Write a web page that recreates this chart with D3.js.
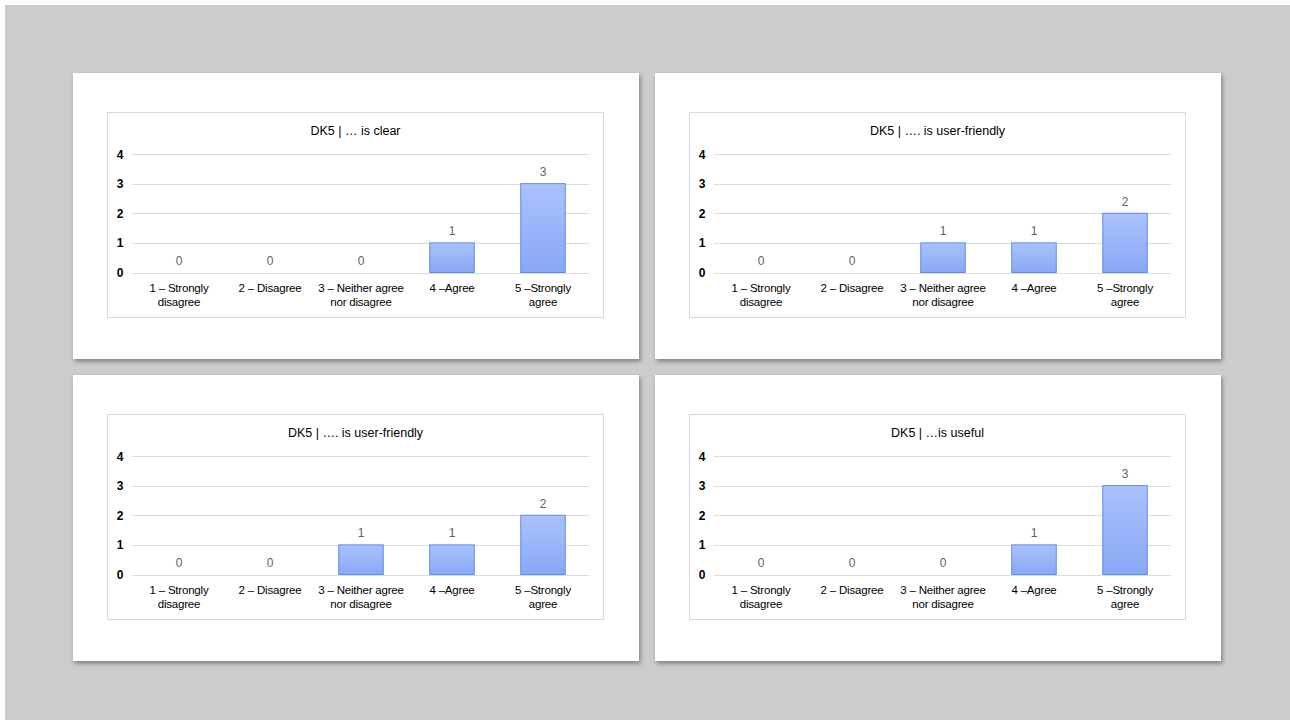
<!DOCTYPE html>
<html>
<head>
<meta charset="utf-8">
<script src="https://cdn.jsdelivr.net/npm/d3@7"></script>
<style>
  html, body { margin: 0; padding: 0; background: #ffffff; }
  svg { display: block; }
  text { font-family: "Liberation Sans", Arial, Helvetica, sans-serif; }
</style>
</head>
<body>
<svg id="chart" width="1290" height="720"></svg>
<script>
// Likert answer categories (each label split into its display lines)
const categoryLines = [
  ["1 – Strongly", "disagree"],
  ["2 – Disagree"],
  ["3 – Neither agree", "nor disagree"],
  ["4 –Agree"],
  ["5 –Strongly", "agree"]
];
const categoryKeys = ["1", "2", "3", "4", "5"];

// Chart titles, one per panel
const titles = [
  "DK5 | … is clear",
  "DK5 | …. is user-friendly",
  "DK5 | …. is user-friendly",
  "DK5 | …is useful"
];

// Response counts per panel
const countsClear = [0, 0, 0, 1, 3];
const countsUserFriendlyA = [0, 0, 1, 1, 2];
const countsUserFriendlyB = [0, 0, 1, 1, 2];
const countsUseful = [0, 0, 0, 1, 3];

// Y-axis ticks
const yTicks = [0, 1, 2, 3, 4];

const panels = [
  { title: titles[0], values: countsClear, x: 73, y: 73 },
  { title: titles[1], values: countsUserFriendlyA, x: 655, y: 73 },
  { title: titles[2], values: countsUserFriendlyB, x: 73, y: 375 },
  { title: titles[3], values: countsUseful, x: 655, y: 375 }
];

const svg = d3.select("#chart");
const defs = svg.append("defs");

const shadow = defs.append("filter").attr("id", "cardShadow")
  .attr("x", "-5%").attr("y", "-5%").attr("width", "110%").attr("height", "115%");
shadow.append("feDropShadow")
  .attr("dx", 1.5).attr("dy", 2.5).attr("stdDeviation", 2)
  .attr("flood-color", "#000").attr("flood-opacity", 0.38);

const grad = defs.append("linearGradient").attr("id", "barFill")
  .attr("x1", 0).attr("y1", 0).attr("x2", 0).attr("y2", 1);
grad.append("stop").attr("offset", "0%").attr("stop-color", "#abc2fb");
grad.append("stop").attr("offset", "100%").attr("stop-color", "#89a7f6");

// Slide backdrop
svg.append("rect").attr("x", 5).attr("y", 5).attr("width", 1285).attr("height", 715)
  .attr("fill", "#cccccc");

const cardW = 566, cardH = 286;
const boxX = 34, boxY = 39, boxW = 497, boxH = 206;

const x = d3.scaleBand().domain(categoryKeys).range([26.5, 481.5]).paddingInner(0.5).paddingOuter(0.25);
const y = d3.scaleLinear().domain([0, 4]).range([160.5, 42]);

panels.forEach(p => {
  const card = svg.append("g").attr("transform", `translate(${p.x},${p.y})`);
  card.append("rect").attr("width", cardW).attr("height", cardH)
    .attr("fill", "#ffffff").attr("filter", "url(#cardShadow)");

  const box = card.append("g").attr("transform", `translate(${boxX},${boxY})`);
  box.append("rect").attr("x", 0.5).attr("y", 0.5).attr("width", boxW - 1).attr("height", boxH - 1)
    .attr("fill", "#ffffff").attr("stroke", "#d9d9d9").attr("stroke-width", 1);

  box.append("text").attr("x", boxW / 2).attr("y", 22.5)
    .attr("text-anchor", "middle").attr("font-size", 12.5).attr("fill", "#000")
    .text(p.title);

  // gridlines
  box.append("g").selectAll("line").data(yTicks).join("line")
    .attr("x1", 25).attr("x2", 482)
    .attr("y1", d => Math.round(y(d)) + 0.5).attr("y2", d => Math.round(y(d)) + 0.5)
    .attr("stroke", "#dcdcdc").attr("stroke-width", 1);

  // y tick labels
  box.append("g").selectAll("text").data(yTicks).join("text")
    .attr("x", 13).attr("y", d => y(d) + 4.5)
    .attr("text-anchor", "middle").attr("font-size", 12).attr("font-weight", "bold")
    .attr("fill", "#000").text(d => d);

  const rows = categoryKeys.map((k, i) => ({ key: k, value: p.values[i], lines: categoryLines[i] }));

  // bars
  box.append("g").selectAll("rect").data(rows.filter(d => d.value > 0)).join("rect")
    .attr("x", d => x(d.key) + 0.5)
    .attr("y", d => y(d.value))
    .attr("width", x.bandwidth() - 1)
    .attr("height", d => y(0) - y(d.value))
    .attr("fill", "url(#barFill)")
    .attr("stroke", "#5b8cf0").attr("stroke-width", 1);

  // value labels
  box.append("g").selectAll("text").data(rows).join("text")
    .attr("x", d => x(d.key) + x.bandwidth() / 2)
    .attr("y", d => y(d.value) - 7.5)
    .attr("text-anchor", "middle").attr("font-size", 12).attr("fill", "#5f5f5f")
    .text(d => d.value);

  // category labels
  const cat = box.append("g").selectAll("text").data(rows).join("text")
    .attr("text-anchor", "middle").attr("font-size", 11.5).attr("fill", "#000")
    .attr("letter-spacing", -0.2);
  cat.selectAll("tspan").data(d => d.lines.map(l => ({ l, cx: x(d.key) + x.bandwidth() / 2 }))).join("tspan")
    .attr("x", d => d.cx)
    .attr("y", (d, i) => 180 + i * 14)
    .text(d => d.l);
});
</script>
</body>
</html>
